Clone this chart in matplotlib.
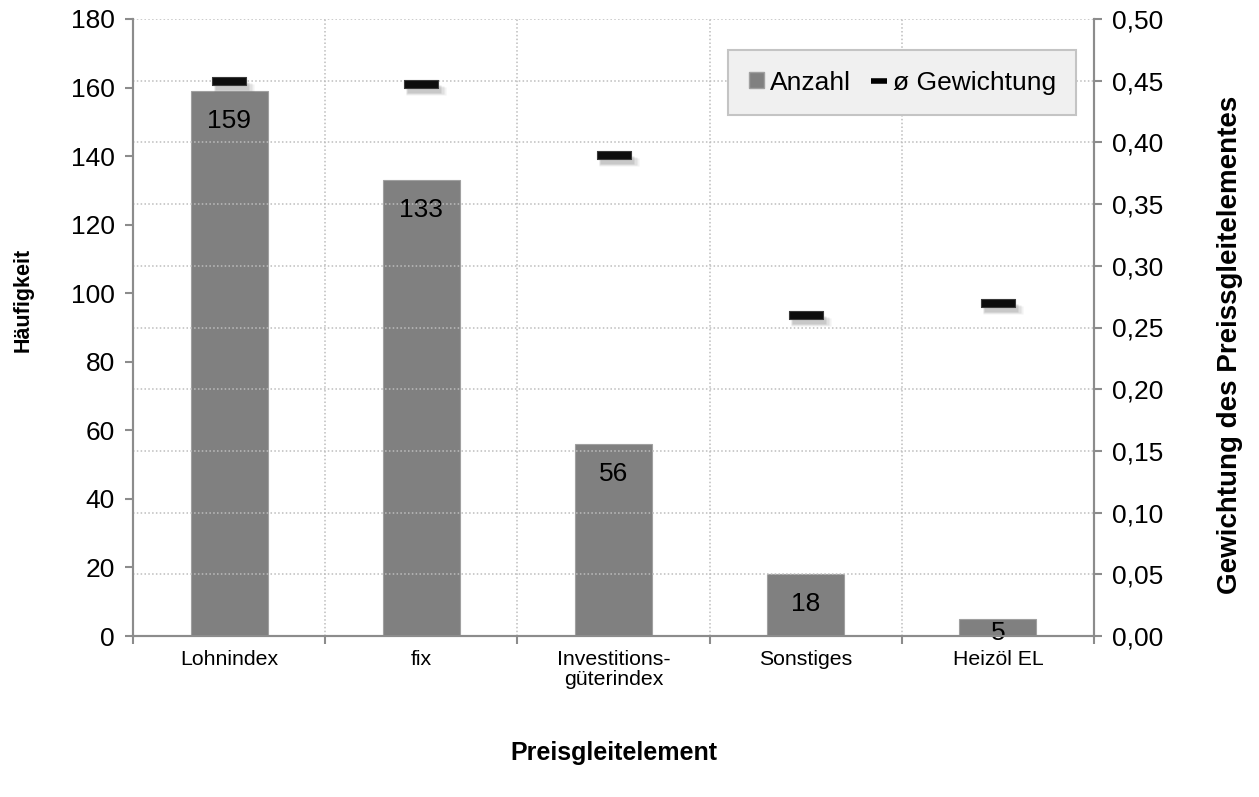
import matplotlib
matplotlib.use("Agg")
import matplotlib.pyplot as plt
import matplotlib.transforms as mtransforms
from matplotlib.lines import Line2D
from matplotlib.patches import Patch
import numpy as np

plt.rcParams['font.family'] = ['Liberation Sans', 'DejaVu Sans']

categories = ["Lohnindex", "fix", "Investitions-\ngüterindex", "Sonstiges", "Heizöl EL"]
anzahl = [159, 133, 56, 18, 5]
gewichtung = [0.450, 0.447, 0.390, 0.260, 0.270]
left_ticks = [0, 20, 40, 60, 80, 100, 120, 140, 160, 180]
right_ticks = [0.00, 0.05, 0.10, 0.15, 0.20, 0.25, 0.30, 0.35, 0.40, 0.45, 0.50]

W, H, DPI = 1259, 797, 100
fig = plt.figure(figsize=(W / DPI, H / DPI), dpi=DPI)
ax = fig.add_axes([133 / W, 1 - 636 / H, (1094 - 133) / W, (636 - 19) / H])
ax2 = ax.twinx()

spine_c = "#8c8c8c"
grid_c = "#bdbdbd"
x = np.arange(len(categories))

# bars
ax.bar(x, anzahl, width=0.4, color="#808080", edgecolor="#a0a0a0", linewidth=0.8, zorder=3)
ax.set_xlim(-0.5, len(categories) - 0.5)
ax.set_ylim(0, 180)
ax.set_yticks(left_ticks)
ax.set_yticklabels([str(v) for v in left_ticks])
ax2.set_ylim(0, 0.5)
ax2.set_yticks(right_ticks)
ax2.set_yticklabels([f"{v:.2f}".replace(".", ",") for v in right_ticks])

# gridlines (horizontal follow right axis, vertical at category boundaries)
for v in right_ticks:
    ax2.axhline(v, color=grid_c, linestyle=(0, (1.0, 1.5)), linewidth=1.1, zorder=0)
for b in np.arange(0.5, len(categories) - 0.5, 1.0):
    ax.axvline(b, color=grid_c, linestyle=(0, (1.0, 1.5)), linewidth=1.1, zorder=0)

# x ticks at boundaries (minor), labels at centers
ax.set_xticks(x)
ax.set_xticklabels(categories, fontsize=15.3, linespacing=1.1)
ax.tick_params(axis='x', which='major', length=0, pad=10)
ax.set_xticks(np.arange(-0.5, len(categories), 1.0), minor=True)
ax.tick_params(axis='x', which='minor', length=6, width=1.5, color=spine_c, direction='out')

ax.tick_params(axis='y', labelsize=19, length=6, width=1.5, color=spine_c, pad=7)
ax2.tick_params(axis='y', labelsize=19, length=6, width=1.5, color=spine_c, pad=7)

for a in (ax, ax2):
    for s in a.spines.values():
        s.set_color(spine_c)
        s.set_linewidth(1.5)
    a.spines['top'].set_visible(False)

# value labels inside bars
px_per_unit = (636 - 19) / 180.0
for xi, v in zip(x, anzahl):
    off_px = min(18.0, v * px_per_unit - 15.0)
    ax.annotate(str(v), (xi, v), xytext=(0, -off_px * 72 / DPI), textcoords='offset points',
                ha='center', va='top', fontsize=19, color='black', zorder=5)

# weighting markers with soft shadow
rect = [(-1, -0.21), (1, -0.21), (1, 0.21), (-1, 0.21), (-1, -0.21)]
for dx, dy, al, ms in [(5, -7, 0.08, 29), (4, -6, 0.12, 27), (3, -5, 0.18, 25)]:
    tr = mtransforms.offset_copy(ax2.transData, fig=fig, x=dx, y=dy, units='dots')
    ax2.plot(x, gewichtung, linestyle='none', marker=rect, markersize=ms,
             markerfacecolor='#606060', markeredgecolor='none', alpha=al, transform=tr, zorder=4)
ax2.plot(x, gewichtung, linestyle='none', marker=rect, markersize=24.5,
         markerfacecolor='#0d0d0d', markeredgecolor='#3a3a3a', markeredgewidth=0.8, zorder=5)

# axis labels
ax.set_ylabel("Häufigkeit", fontsize=15.5, fontweight='bold', labelpad=0)
ax.yaxis.set_label_coords(-(133 - 34) / (1094 - 133), (636 - 300) / (636 - 19))
ax2.set_ylabel("Gewichtung des Preissgleitelementes", fontsize=20, fontweight='bold', rotation=90)
ax2.yaxis.set_label_coords((1217 - 133) / (1094 - 133), (636 - 345) / (636 - 19))
fig.text(614 / W, 1 - 753 / H, "Preisgleitelement", fontsize=18, fontweight='bold',
         ha='center', va='center')

# legend
handles = [Patch(facecolor='#808080', edgecolor='#a0a0a0'),
           Line2D([], [], color='black', linewidth=4.0, solid_capstyle='butt')]
leg = ax2.legend(handles, ["Anzahl", "ø Gewichtung"], ncol=2, loc='upper left',
                 bbox_to_anchor=(728 / W, 1 - 50 / H), bbox_transform=fig.transFigure,
                 fontsize=19, frameon=True, fancybox=False, framealpha=1,
                 handlelength=0.6, handleheight=0.55, handletextpad=0.22, columnspacing=0.75,
                 borderpad=0.78, borderaxespad=0)
leg.get_frame().set_facecolor('#f0f0f0')
leg.get_frame().set_edgecolor('#c4c4c4')
leg.get_frame().set_linewidth(1.5)

fig.savefig("out.png", dpi=DPI)
